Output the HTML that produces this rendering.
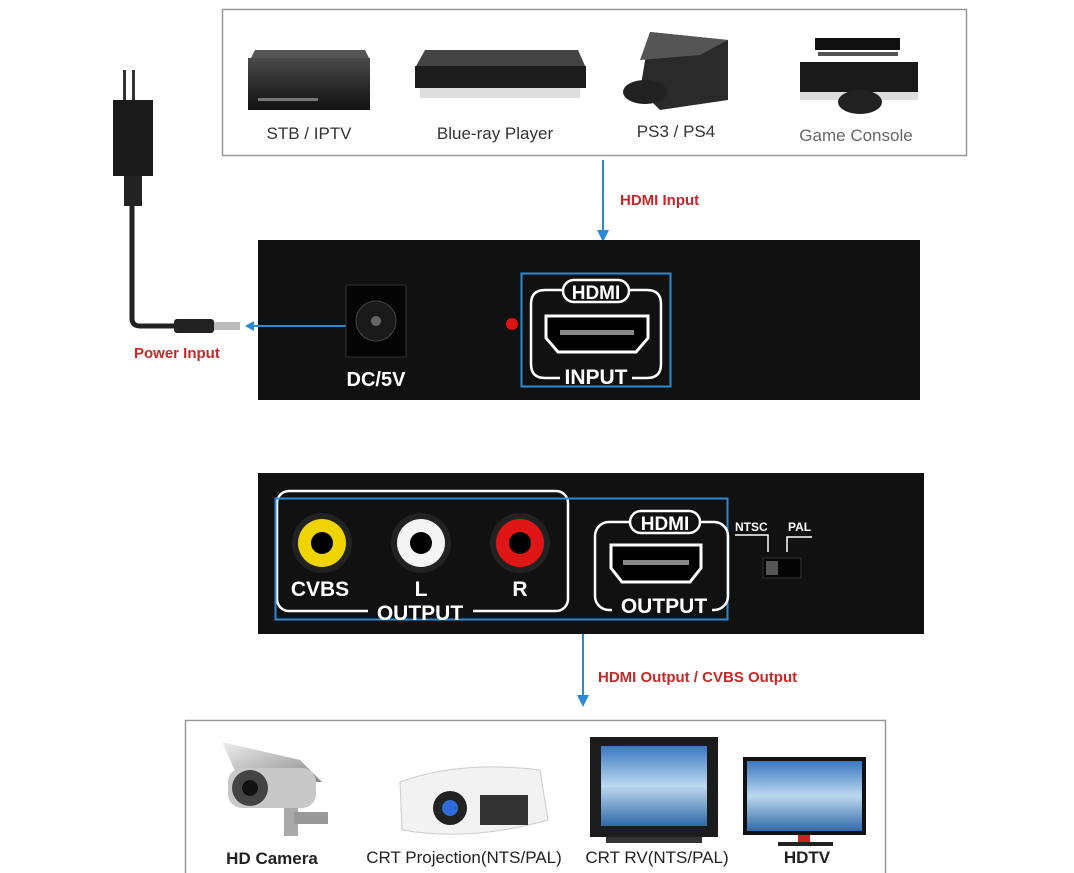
<!DOCTYPE html>
<html><head><meta charset="utf-8"><style>
html,body{margin:0;padding:0;background:#fff;}
svg{display:block;font-family:"Liberation Sans",sans-serif;}
</style></head><body>
<svg width="1074" height="873" viewBox="0 0 1074 873" xmlns="http://www.w3.org/2000/svg">
<defs>
<linearGradient id="dev" x1="0" y1="0" x2="0" y2="1"><stop offset="0" stop-color="#4a4a4a"/><stop offset="1" stop-color="#111"/></linearGradient>
<linearGradient id="sky" x1="0" y1="0" x2="0" y2="1"><stop offset="0" stop-color="#3a78c0"/><stop offset="0.5" stop-color="#bcd8ef"/><stop offset="1" stop-color="#2f6aa8"/></linearGradient>
<linearGradient id="metal" x1="0" y1="0" x2="1" y2="1"><stop offset="0" stop-color="#eee"/><stop offset="1" stop-color="#888"/></linearGradient>
</defs>
<rect x="222.5" y="9.5" width="744" height="146" fill="#fff" stroke="#999" stroke-width="1.5"/>
<polygon points="255,50 365,50 370,60 250,60" fill="#555"/>
<rect x="248" y="58" width="122" height="52" fill="url(#dev)"/>
<rect x="258" y="98" width="60" height="3" fill="#777"/>
<polygon points="425,50 578,50 586,68 415,68" fill="#444"/>
<rect x="415" y="66" width="171" height="22" fill="#1c1c1c"/>
<rect x="420" y="88" width="160" height="10" fill="#bbb" opacity="0.5"/>
<polygon points="650,32 728,40 728,100 660,110 640,90" fill="#2a2a2a"/>
<polygon points="650,32 728,40 700,55 640,60" fill="#555"/>
<ellipse cx="645" cy="92" rx="22" ry="12" fill="#222"/>
<rect x="815" y="38" width="85" height="12" fill="#111"/>
<rect x="818" y="52" width="80" height="4" fill="#555"/>
<rect x="800" y="62" width="118" height="30" fill="#1a1a1a"/>
<rect x="800" y="92" width="118" height="8" fill="#ddd"/>
<ellipse cx="860" cy="102" rx="22" ry="12" fill="#222"/>
<g font-size="17" fill="#333" text-anchor="middle">
<text x="309" y="139">STB / IPTV</text>
<text x="495" y="139">Blue-ray Player</text>
<text x="676" y="137">PS3 / PS4</text>
<text x="856" y="141" fill="#666">Game Console</text>
</g>
<line x1="603" y1="160" x2="603" y2="232" stroke="#2a8ad4" stroke-width="2"/>
<polygon points="597,230 609,230 603,242" fill="#2a8ad4"/>
<text x="620" y="205" font-size="15" font-weight="bold" fill="#c62828">HDMI Input</text>
<rect x="123" y="70" width="3" height="32" fill="#333"/>
<rect x="132" y="70" width="3" height="32" fill="#333"/>
<rect x="113" y="100" width="40" height="76" fill="#1a1a1a"/>
<rect x="124" y="176" width="18" height="30" fill="#222"/>
<path d="M132 206 L132 318 Q132 326 140 326 L178 326" stroke="#222" stroke-width="5" fill="none"/>
<rect x="174" y="319" width="40" height="14" rx="3" fill="#222"/>
<rect x="214" y="322" width="26" height="8" fill="#bbb"/>
<text x="134" y="358" font-size="15" font-weight="bold" fill="#c62828">Power Input</text>
<rect x="258" y="240" width="662" height="160" fill="#111"/>
<line x1="250" y1="326" x2="346" y2="326" stroke="#2a8ad4" stroke-width="2"/>
<polygon points="245,326 254,321 254,331" fill="#2a8ad4"/>
<rect x="346" y="285" width="60" height="72" fill="#050505" stroke="#333"/>
<circle cx="376" cy="321" r="20" fill="#1a1a1a" stroke="#444"/>
<circle cx="376" cy="321" r="5" fill="#666"/>
<text x="376" y="386" font-size="20" font-weight="bold" fill="#fff" text-anchor="middle">DC/5V</text>
<circle cx="512" cy="324" r="6" fill="#d11"/>
<rect x="521.5" y="273.5" width="149" height="113" fill="none" stroke="#2a8ad4" stroke-width="2"/>
<path d="M565 290 L545 290 Q531 290 531 304 L531 364 Q531 378 545 378 L560 378 M632 378 L647 378 Q661 378 661 364 L661 304 Q661 290 647 290 L627 290" stroke="#fff" stroke-width="2.5" fill="none"/>
<rect x="563" y="280" width="66" height="22" rx="11" fill="#111" stroke="#fff" stroke-width="2.5"/>
<text x="596" y="299" font-size="19" font-weight="bold" fill="#fff" text-anchor="middle">HDMI</text>
<path d="M546 316 L648 316 L648 338 L636 352 L558 352 L546 338 Z" fill="#000" stroke="#fff" stroke-width="3"/>
<rect x="560" y="330" width="74" height="5" fill="#888"/>
<text x="596" y="384" font-size="21" font-weight="bold" fill="#fff" text-anchor="middle">INPUT</text>
<rect x="258" y="473" width="666" height="161" fill="#111"/>
<rect x="277" y="491" width="291" height="120" rx="12" fill="none" stroke="#fff" stroke-width="2.5"/>
<rect x="275.5" y="498.5" width="452" height="121" fill="none" stroke="#2a8ad4" stroke-width="2"/>
<circle cx="322" cy="543" r="30" fill="#222"/><circle cx="322" cy="543" r="24" fill="#f0d400"/><circle cx="322" cy="543" r="11" fill="#000"/>
<circle cx="421" cy="543" r="30" fill="#222"/><circle cx="421" cy="543" r="24" fill="#f4f4f4"/><circle cx="421" cy="543" r="11" fill="#000"/>
<circle cx="520" cy="543" r="30" fill="#222"/><circle cx="520" cy="543" r="24" fill="#e01515"/><circle cx="520" cy="543" r="11" fill="#000"/>
<g font-size="21" font-weight="bold" fill="#fff" text-anchor="middle">
<text x="320" y="596">CVBS</text><text x="421" y="596">L</text><text x="520" y="596">R</text>
</g>
<rect x="368" y="602" width="105" height="16" fill="#111"/>
<text x="420" y="620" font-size="21" font-weight="bold" fill="#fff" text-anchor="middle">OUTPUT</text>
<rect x="595" y="522" width="133" height="88" rx="14" fill="none" stroke="#fff" stroke-width="2.5"/>
<rect x="630" y="511" width="70" height="22" rx="11" fill="#111" stroke="#fff" stroke-width="2.5"/>
<text x="665" y="530" font-size="19" font-weight="bold" fill="#fff" text-anchor="middle">HDMI</text>
<path d="M611 545 L701 545 L701 568 L690 582 L622 582 L611 568 Z" fill="#000" stroke="#fff" stroke-width="3"/>
<rect x="623" y="560" width="66" height="5" fill="#888"/>
<rect x="612" y="598" width="100" height="16" fill="#111"/>
<text x="664" y="613" font-size="21" font-weight="bold" fill="#fff" text-anchor="middle">OUTPUT</text>
<text x="735" y="531" font-size="12" font-weight="bold" fill="#fff">NTSC</text>
<text x="788" y="531" font-size="12" font-weight="bold" fill="#fff">PAL</text>
<path d="M735 535 L768 535 L768 552 M812 537 L787 537 L787 552" stroke="#fff" stroke-width="1.5" fill="none"/>
<rect x="763" y="558" width="38" height="20" fill="#050505" stroke="#333"/>
<rect x="766" y="561" width="12" height="14" fill="#555"/>
<line x1="583" y1="634" x2="583" y2="697" stroke="#2a8ad4" stroke-width="2"/>
<polygon points="577,695 589,695 583,707" fill="#2a8ad4"/>
<text x="598" y="682" font-size="15" font-weight="bold" fill="#c62828">HDMI Output / CVBS Output</text>
<rect x="185.5" y="720.5" width="700" height="160" fill="#fff" stroke="#999" stroke-width="1.5"/>
<path d="M222 742 L300 760 L322 782 L240 782 Z" fill="url(#metal)"/>
<rect x="228" y="768" width="88" height="40" rx="14" fill="#c8c8c8"/>
<circle cx="250" cy="788" r="18" fill="#444"/><circle cx="250" cy="788" r="8" fill="#111"/>
<rect x="284" y="808" width="14" height="28" fill="#aaa"/>
<rect x="294" y="812" width="34" height="12" fill="#999"/>
<path d="M400 782 Q460 760 540 770 L548 820 Q470 842 402 830 Z" fill="#f2f2f2" stroke="#ccc"/>
<circle cx="450" cy="808" r="17" fill="#222"/><circle cx="450" cy="808" r="8" fill="#2f6bd8"/>
<rect x="480" y="795" width="48" height="30" fill="#333"/>
<rect x="590" y="737" width="128" height="100" fill="#1c1c1c"/>
<rect x="601" y="746" width="106" height="80" fill="url(#sky)"/>
<rect x="606" y="837" width="96" height="6" fill="#333"/>
<rect x="743" y="757" width="123" height="78" fill="#111"/>
<rect x="747" y="761" width="115" height="70" fill="url(#sky)"/>
<rect x="798" y="835" width="12" height="8" fill="#c22"/>
<rect x="778" y="842" width="55" height="4" fill="#222"/>
<g font-size="17" fill="#222" text-anchor="middle">
<text x="272" y="864" font-weight="bold">HD Camera</text>
<text x="464" y="863">CRT Projection(NTS/PAL)</text>
<text x="657" y="863">CRT RV(NTS/PAL)</text>
<text x="807" y="863" font-weight="bold">HDTV</text>
</g>
</svg>
</body></html>
